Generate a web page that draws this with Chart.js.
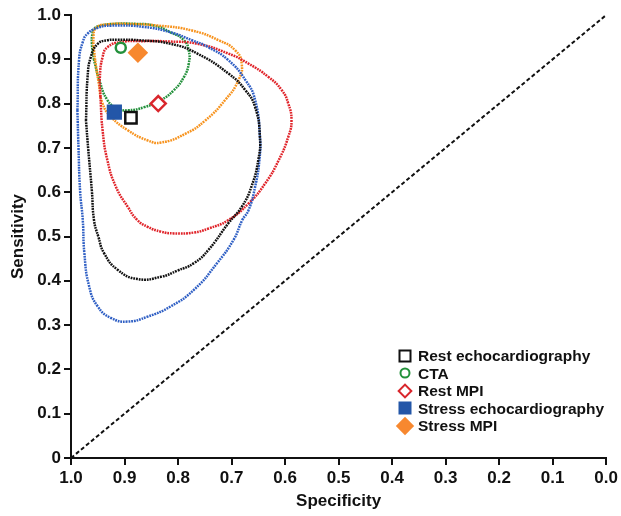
<!DOCTYPE html>
<html>
<head>
<meta charset="utf-8">
<script src="https://cdn.jsdelivr.net/npm/chart.js@4"></script>
<style>
  html, body { margin: 0; padding: 0; background: #fff; }
  #wrap { position: relative; width: 621px; height: 516px; }
  #legend { position: absolute; left: 396px; top: 347px; font: bold 15.5px "Liberation Sans", Arial, sans-serif; color: #111; }
  .row { height: 17.5px; line-height: 17.5px; position: relative; padding-left: 22px; white-space: nowrap; }
  .mk { position: absolute; top: 50%; left: 9px; box-sizing: border-box; transform: translate(-50%, -50%); }
  .rot { transform: translate(-50%, -50%) rotate(45deg); }
</style>
</head>
<body>
<div id="wrap">
  <canvas id="roc" width="621" height="516"></canvas>
  <div id="legend"></div>
</div>
<script>
// Summary points (specificity, sensitivity) for each modality
const methods = ['Rest echocardiography', 'CTA', 'Rest MPI', 'Stress echocardiography', 'Stress MPI'];
const pointSpec = [0.888, 0.907, 0.837, 0.919, 0.875];
const pointSens = [0.768, 0.926, 0.800, 0.781, 0.915];

// 95% confidence regions
const restEchoSpec = [0.972, 0.969, 0.963, 0.950, 0.932, 0.913, 0.873, 0.814, 0.764, 0.706, 0.674, 0.656, 0.647, 0.650, 0.663, 0.681, 0.706, 0.743, 0.770, 0.801, 0.832, 0.876, 0.913, 0.938, 0.949, 0.957, 0.961, 0.968, 0.972];
const restEchoSens = [0.762, 0.860, 0.905, 0.935, 0.943, 0.944, 0.943, 0.935, 0.913, 0.868, 0.830, 0.792, 0.725, 0.673, 0.612, 0.567, 0.530, 0.470, 0.440, 0.423, 0.409, 0.404, 0.425, 0.462, 0.500, 0.537, 0.603, 0.700, 0.762];

const ctaSpec = [0.957, 0.961, 0.960, 0.957, 0.944, 0.919, 0.882, 0.845, 0.814, 0.789, 0.780, 0.780, 0.789, 0.808, 0.832, 0.863, 0.894, 0.913, 0.932, 0.947, 0.957];
const ctaSens = [0.898, 0.935, 0.958, 0.969, 0.976, 0.980, 0.980, 0.976, 0.961, 0.943, 0.920, 0.890, 0.860, 0.830, 0.808, 0.792, 0.785, 0.789, 0.808, 0.853, 0.898];

const restMpiSpec = [0.945, 0.946, 0.941, 0.932, 0.907, 0.863, 0.814, 0.764, 0.706, 0.668, 0.631, 0.606, 0.594, 0.588, 0.594, 0.612, 0.637, 0.668, 0.706, 0.743, 0.770, 0.808, 0.832, 0.857, 0.876, 0.894, 0.916, 0.932, 0.941, 0.945];
const restMpiSens = [0.815, 0.860, 0.905, 0.927, 0.939, 0.941, 0.940, 0.935, 0.913, 0.890, 0.860, 0.830, 0.800, 0.762, 0.725, 0.672, 0.620, 0.575, 0.537, 0.518, 0.509, 0.507, 0.511, 0.522, 0.537, 0.567, 0.612, 0.672, 0.740, 0.815];

const stressEchoSpec = [0.988, 0.985, 0.978, 0.969, 0.950, 0.925, 0.863, 0.814, 0.774, 0.743, 0.706, 0.674, 0.656, 0.647, 0.648, 0.656, 0.668, 0.680, 0.696, 0.727, 0.770, 0.814, 0.857, 0.894, 0.925, 0.950, 0.966, 0.975, 0.978, 0.983, 0.986, 0.988];
const stressEchoSens = [0.785, 0.898, 0.939, 0.958, 0.971, 0.976, 0.973, 0.961, 0.943, 0.927, 0.898, 0.853, 0.808, 0.725, 0.672, 0.612, 0.560, 0.537, 0.493, 0.440, 0.380, 0.342, 0.319, 0.308, 0.316, 0.342, 0.387, 0.462, 0.537, 0.603, 0.700, 0.785];

const stressMpiSpec = [0.955, 0.958, 0.952, 0.929, 0.898, 0.836, 0.774, 0.724, 0.693, 0.681, 0.687, 0.712, 0.749, 0.786, 0.832, 0.857, 0.894, 0.925, 0.941, 0.948, 0.955];
const stressMpiSens = [0.898, 0.950, 0.972, 0.979, 0.980, 0.976, 0.965, 0.943, 0.920, 0.890, 0.853, 0.808, 0.762, 0.732, 0.712, 0.717, 0.740, 0.770, 0.800, 0.845, 0.898];

const xTickLabels = ['0.0', '0.1', '0.2', '0.3', '0.4', '0.5', '0.6', '0.7', '0.8', '0.9', '1.0'];
const yTickLabels = ['0', '0.1', '0.2', '0.3', '0.4', '0.5', '0.6', '0.7', '0.8', '0.9', '1.0'];

const toXY = (xs, ys) => xs.map((x, i) => ({ x: x, y: ys[i] }));

const FONT = '"Liberation Sans", Arial, sans-serif';

// marker styles, in the same order as methods
const markerStyle = [
	{ pointStyle: 'rect', radius: 8, fill: '#fff', stroke: '#111' },
	{ pointStyle: 'circle', radius: 5, fill: '#fff', stroke: '#23913b' },
	{ pointStyle: 'rectRot', radius: 7.5, fill: '#fff', stroke: '#d9262c' },
	{ pointStyle: 'rect', radius: 9, fill: '#2356a8', stroke: '#2356a8' },
	{ pointStyle: 'rectRot', radius: 8.5, fill: '#f7882f', stroke: '#f7882f' },
];

function region(xs, ys, color) {
	return {
		data: toXY(xs, ys),
		showLine: true,
		pointRadius: 0,
		borderColor: color,
		borderWidth: 2.5,
		borderDash: [1.8, 0.9],
		tension: 0.5,
		fill: false,
		order: 2,
	};
}

const datasets = [];
methods.forEach((m, i) => {
	const s = markerStyle[i];
	datasets.push({
		label: m,
		data: [{ x: pointSpec[i], y: pointSens[i] }],
		pointStyle: s.pointStyle,
		pointRadius: s.radius,
		pointBackgroundColor: s.fill,
		pointBorderColor: s.stroke,
		pointBorderWidth: 2.5,
		showLine: false,
		order: 0,
	});
});

datasets.push(region(restEchoSpec, restEchoSens, '#111111'));
datasets.push(region(stressEchoSpec, stressEchoSens, '#2f5fc4'));
datasets.push(region(restMpiSpec, restMpiSens, '#e0242a'));
datasets.push(region(stressMpiSpec, stressMpiSens, '#f7931e'));
datasets.push(region(ctaSpec, ctaSens, '#24913c'));

// chance line
datasets.push({
	data: [{ x: 1, y: 0 }, { x: 0, y: 1 }],
	showLine: true,
	pointRadius: 0,
	borderColor: '#111',
	borderWidth: 2,
	borderDash: [4, 2.5],
	order: 3,
});

new Chart(document.getElementById('roc').getContext('2d'), {
	type: 'scatter',
	data: { datasets: datasets },
	options: {
		responsive: false,
		animation: false,
		devicePixelRatio: 1,
		layout: { padding: { top: 15, right: 12, left: 0, bottom: 0 } },
		plugins: { legend: { display: false }, tooltip: { enabled: false } },
		scales: {
			x: {
				type: 'linear',
				min: 0,
				max: 1,
				reverse: true,
				afterFit: (scale) => { scale.height = 58; },
				ticks: {
					stepSize: 0.1,
					color: '#111',
					padding: 3,
					font: { family: FONT, size: 17, weight: 'bold' },
					callback: (v) => xTickLabels[Math.round(v * 10)],
				},
				grid: { drawOnChartArea: false, drawTicks: true, tickLength: 7, color: '#111', lineWidth: 2 },
				border: { display: true, color: '#111', width: 2 },
				title: {
					display: true,
					text: 'Specificity',
					color: '#111',
					font: { family: FONT, size: 17, weight: 'bold' },
					padding: { top: 0, bottom: 4 },
				},
			},
			y: {
				type: 'linear',
				min: 0,
				max: 1,
				afterFit: (scale) => { scale.width = 71; },
				ticks: {
					stepSize: 0.1,
					color: '#111',
					padding: 3,
					font: { family: FONT, size: 17, weight: 'bold' },
					callback: (v) => yTickLabels[Math.round(v * 10)],
				},
				grid: { drawOnChartArea: false, drawTicks: true, tickLength: 7, color: '#111', lineWidth: 2 },
				border: { display: true, color: '#111', width: 2 },
				title: {
					display: true,
					text: 'Sensitivity',
					color: '#111',
					font: { family: FONT, size: 17, weight: 'bold' },
					padding: { top: 8, bottom: 0 },
				},
			},
		},
	},
});

// legend as html, bottom right of the plot
const legendMarks = [
	'width:13px;height:13px;border:2.5px solid #111;background:#fff;',
	'width:11px;height:11px;border:2.5px solid #23913b;border-radius:50%;background:#fff;',
	'width:11px;height:11px;border:2.5px solid #d9262c;background:#fff;',
	'width:13px;height:13px;background:#2356a8;',
	'width:13px;height:13px;background:#f7882f;',
];
const legendRot = [false, false, true, false, true];
const legend = document.getElementById('legend');
methods.forEach((m, i) => {
	const row = document.createElement('div');
	row.className = 'row';
	const mk = document.createElement('span');
	mk.className = 'mk' + (legendRot[i] ? ' rot' : '');
	mk.style.cssText = legendMarks[i];
	row.appendChild(mk);
	row.appendChild(document.createTextNode(m));
	legend.appendChild(row);
});
</script>
</body>
</html>
